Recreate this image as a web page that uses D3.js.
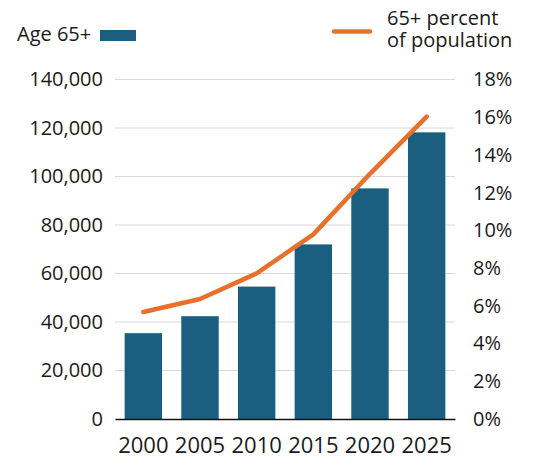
<!DOCTYPE html>
<html>
<head>
<meta charset="utf-8">
<script src="https://cdn.jsdelivr.net/npm/d3@7"></script>
<style>
  body { margin: 0; background: #fff; }
  text { font-family: "Open Sans", sans-serif; fill: #1a1a1a; }
</style>
</head>
<body>
<svg id="chart" width="550" height="459"></svg>
<script>
const years = ["2000", "2005", "2010", "2015", "2020", "2025"];
const age65 = [35400, 42400, 54600, 72000, 95100, 118200];
const pct65 = [5.67, 6.36, 7.72, 9.79, 13.0, 16.03];
const leftTicks = [0, 20000, 40000, 60000, 80000, 100000, 120000, 140000];
const rightTicks = [0, 2, 4, 6, 8, 10, 12, 14, 16, 18];

const barColor = "#1a5f80";
const lineColor = "#e8702a";

const svg = d3.select("#chart");
const m = { left: 115, right: 455, top: 79.5, bottom: 419 };

const x = d3.scaleBand().domain(years).range([m.left, m.right])
  .paddingInner(0.34).paddingOuter(0.17);
const y = d3.scaleLinear().domain([0, 140000]).range([m.bottom, m.top]);
const y2 = d3.scaleLinear().domain([0, 18]).range([m.bottom, m.top]);

// gridlines
svg.append("g").selectAll("line").data(leftTicks.filter(d => d > 0)).join("line")
  .attr("x1", m.left).attr("x2", m.right)
  .attr("y1", d => y(d)).attr("y2", d => y(d))
  .attr("stroke", "#d9d9d9").attr("stroke-width", 1);

// left axis
const yAxis = svg.append("g").attr("transform", `translate(${m.left},0)`)
  .call(d3.axisLeft(y).tickValues(leftTicks).tickFormat(d3.format(",")).tickSize(0).tickPadding(12));
yAxis.select(".domain").remove();
yAxis.selectAll("text").style("font-size", "20px").style("font-family", "Open Sans").attr("fill", "#1a1a1a");

// right axis
const y2Axis = svg.append("g").attr("transform", `translate(${m.right},0)`)
  .call(d3.axisRight(y2).tickValues(rightTicks).tickFormat(d => d + "%").tickSize(0).tickPadding(18));
y2Axis.select(".domain").remove();
y2Axis.selectAll("text").style("font-size", "20px").style("font-family", "Open Sans").attr("fill", "#1a1a1a");

// bars
svg.append("g").selectAll("rect").data(years).join("rect")
  .attr("x", d => x(d)).attr("width", x.bandwidth())
  .attr("y", (d, i) => y(age65[i])).attr("height", (d, i) => y(0) - y(age65[i]))
  .attr("fill", barColor);

// x axis
const xAxis = svg.append("g").attr("transform", `translate(0,${m.bottom})`)
  .call(d3.axisBottom(x).tickSize(0).tickPadding(18));
xAxis.select(".domain").attr("stroke", "#111").attr("stroke-width", 1.5);
xAxis.selectAll("text").style("font-size", "22px").style("font-family", "Open Sans").attr("fill", "#1a1a1a");

// line
const line = d3.line().x((d, i) => x(years[i]) + x.bandwidth() / 2).y(d => y2(d));
svg.append("path").datum(pct65).attr("d", line)
  .attr("fill", "none").attr("stroke", lineColor).attr("stroke-width", 4.5)
  .attr("stroke-linecap", "round").attr("stroke-linejoin", "round");

// legend
svg.append("text").attr("x", 17).attr("y", 41).style("font-size", "20px").text("Age 65+");
svg.append("rect").attr("x", 100).attr("y", 30).attr("width", 36).attr("height", 11).attr("fill", barColor);
svg.append("line").attr("x1", 334).attr("x2", 370).attr("y1", 31.5).attr("y2", 31.5)
  .attr("stroke", lineColor).attr("stroke-width", 4.5).attr("stroke-linecap", "round");
const lg = svg.append("text").attr("x", 387).attr("y", 25).style("font-size", "20px");
lg.append("tspan").attr("x", 387).attr("y", 25).text("65+ percent");
lg.append("tspan").attr("x", 387).attr("y", 47).text("of population");
</script>
</body>
</html>
